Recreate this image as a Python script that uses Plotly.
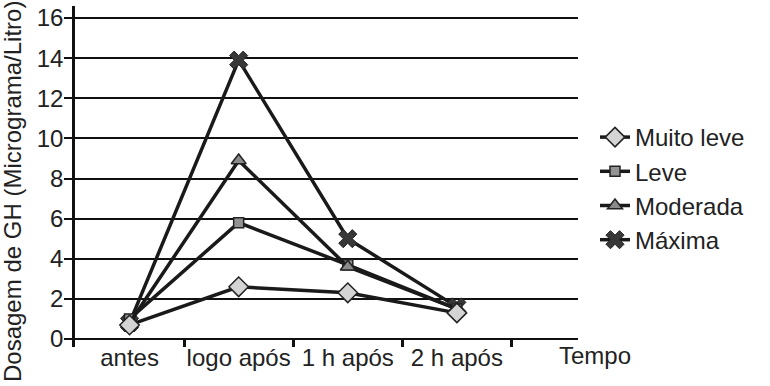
import plotly.graph_objects as go

categorias = ["antes", "logo após", "1 h após", "2 h após"]
muito_leve = [0.7, 2.6, 2.3, 1.3]
leve = [1.0, 5.8, 3.7, 1.5]
moderada = [0.8, 8.9, 3.6, 1.5]
maxima = [0.8, 13.9, 5.0, 1.6]
y_ticks = [0, 2, 4, 6, 8, 10, 12, 14, 16]

FONT = "Liberation Sans, Arial, sans-serif"
LINE = "#1a1a1a"

fig = go.Figure()

series = [
    ("Máxima", maxima, dict(symbol="x", size=16, color="#383838", line=dict(color="#222", width=1)), 4),
    ("Leve", leve, dict(symbol="square", size=10, color="#939393", line=dict(color="#222", width=1.5)), 2),
    ("Moderada", moderada, dict(symbol="triangle-up", size=13, color="#8a8a8a", line=dict(color="#222", width=1.5)), 3),
    ("Muito leve", muito_leve, dict(symbol="diamond", size=15, color="#d4d4d4", line=dict(color="#222", width=1.5)), 1),
]
for name, vals, mk, rank in series:
    fig.add_trace(go.Scatter(
        x=categorias, y=vals, name=name, mode="lines+markers",
        line=dict(color=LINE, width=3.5), marker=mk, legendrank=rank,
    ))

fig.update_layout(
    width=770, height=386,
    margin=dict(l=75, r=192, t=6, b=39, autoexpand=False),
    paper_bgcolor="white", plot_bgcolor="white",
    font=dict(family=FONT, size=24, color="#222"),
    showlegend=True,
    legend=dict(
        x=595 / 770, xref="container", xanchor="left",
        y=1 - 115 / 386, yref="container", yanchor="top",
        font=dict(size=24, color="#222"), bgcolor="rgba(0,0,0,0)",
        tracegroupgap=0, itemwidth=30,
    ),
    xaxis=dict(
        type="category", categoryorder="array", categoryarray=categorias,
        range=[-0.5, 4.11], showgrid=False, zeroline=False, showline=False,
        tickson="boundaries", ticks="inside", ticklen=8, tickwidth=3, tickcolor="#111",
        tickangle=0, automargin=False, ticklabelstandoff=-6,
        tickfont=dict(size=24, color="#222"),
    ),
    yaxis=dict(
        range=[-0.4, 16.6], tickvals=y_ticks, showgrid=True, gridcolor="#111", gridwidth=2,
        zeroline=False, showline=True, linecolor="#111", linewidth=2.5,
        ticks="outside", ticklen=8, tickwidth=2, tickcolor="#111",
        ticklabelstandoff=-4, automargin=False,
        tickfont=dict(size=24, color="#222"),
    ),
    annotations=[
        dict(text="Dosagem de GH (Micrograma/Litro)", textangle=-90, xref="paper", yref="paper",
             x=(12 - 75) / 503, y=(347 - 192) / 341, xanchor="center", yanchor="middle",
             showarrow=False, font=dict(size=24, color="#222")),
        dict(text="Tempo", xref="paper", yref="paper", x=(595 - 75) / 503, y=(347 - 355) / 341,
             xanchor="center", yanchor="middle", showarrow=False, font=dict(size=24, color="#222")),
    ],
)

fig.write_html("out.html")
